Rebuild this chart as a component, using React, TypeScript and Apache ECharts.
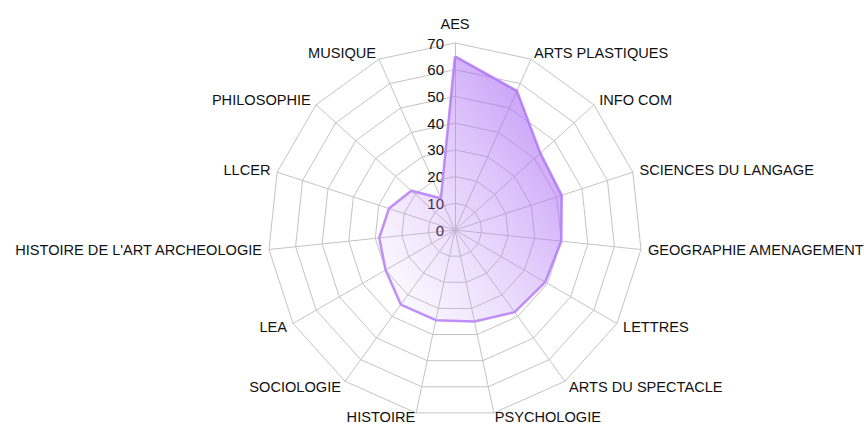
import React, { useEffect, useRef } from "react";
import * as echarts from "echarts";

const categories = [
  "AES",
  "ARTS PLASTIQUES",
  "INFO COM",
  "SCIENCES DU LANGAGE",
  "GEOGRAPHIE AMENAGEMENT",
  "LETTRES",
  "ARTS DU SPECTACLE",
  "PSYCHOLOGIE",
  "HISTOIRE",
  "SOCIOLOGIE",
  "LEA",
  "HISTOIRE DE L'ART ARCHEOLOGIE",
  "LLCER",
  "PHILOSOPHIE",
  "MUSIQUE",
];
const values = [65, 57, 43, 42, 40, 39, 38, 35, 34.5, 34.5, 30, 28.5, 26, 22, 13];
const axisMax = 70;
const tickCount = 7;

const FONT = "'Liberation Sans', Arial, sans-serif";

// ECharts lays radar axes out counter-clockwise; the reference runs clockwise,
// so keep the first axis on top and reverse the rest.
const order = [0, ...categories.map((_, i) => i).slice(1).reverse()];
const tightBottom = ["PSYCHOLOGIE", "HISTOIRE"];

export default function App() {
  const ref = useRef<HTMLDivElement>(null);
  useEffect(() => {
    if (!ref.current) return;
    const chart = echarts.init(ref.current, undefined, { renderer: "svg" });
    chart.setOption({
      animation: false,
      backgroundColor: "#ffffff",
      radar: {
        center: [455, 230],
        radius: 187,
        startAngle: 90,
        shape: "polygon",
        splitNumber: tickCount,
        nameGap: 7,
        axisName: { color: "#111", fontSize: 14.6, fontFamily: FONT },
        splitLine: { lineStyle: { color: "#c4c4c4", width: 1 } },
        splitArea: { show: false },
        axisLine: { lineStyle: { color: "#c4c4c4", width: 1 } },
        axisTick: { show: false },
        axisLabel: { show: false },
        indicator: order.map((k, i) => {
          const name = categories[k];
          if (i === 0)
            return {
              name,
              min: 0,
              max: axisMax,
              nameGap: 12,
              axisLabel: {
                show: true,
                color: "#111",
                fontSize: 15,
                fontFamily: FONT,
                margin: 11,
              },
            };
          if (tightBottom.includes(name)) return { name, min: 0, max: axisMax, nameGap: 4 };
          return { name, min: 0, max: axisMax };
        }),
      },
      series: [
        {
          type: "radar",
          symbol: "none",
          lineStyle: { color: "#bf8ff7", width: 2.5 },
          areaStyle: {
            opacity: 1,
            color: new echarts.graphic.LinearGradient(1, 0, 0, 1, [
              { offset: 0, color: "rgba(160, 88, 243, 0.72)" },
              { offset: 1, color: "rgba(200, 160, 250, 0.0)" },
            ]),
          },
          data: [{ value: order.map((k) => values[k]), name: "Data" }],
        },
      ],
    });
    return () => chart.dispose();
  }, []);
  return (
    <div
      ref={ref}
      style={{ position: "fixed", left: 0, top: 0, width: 864, height: 426 }}
    />
  );
}
